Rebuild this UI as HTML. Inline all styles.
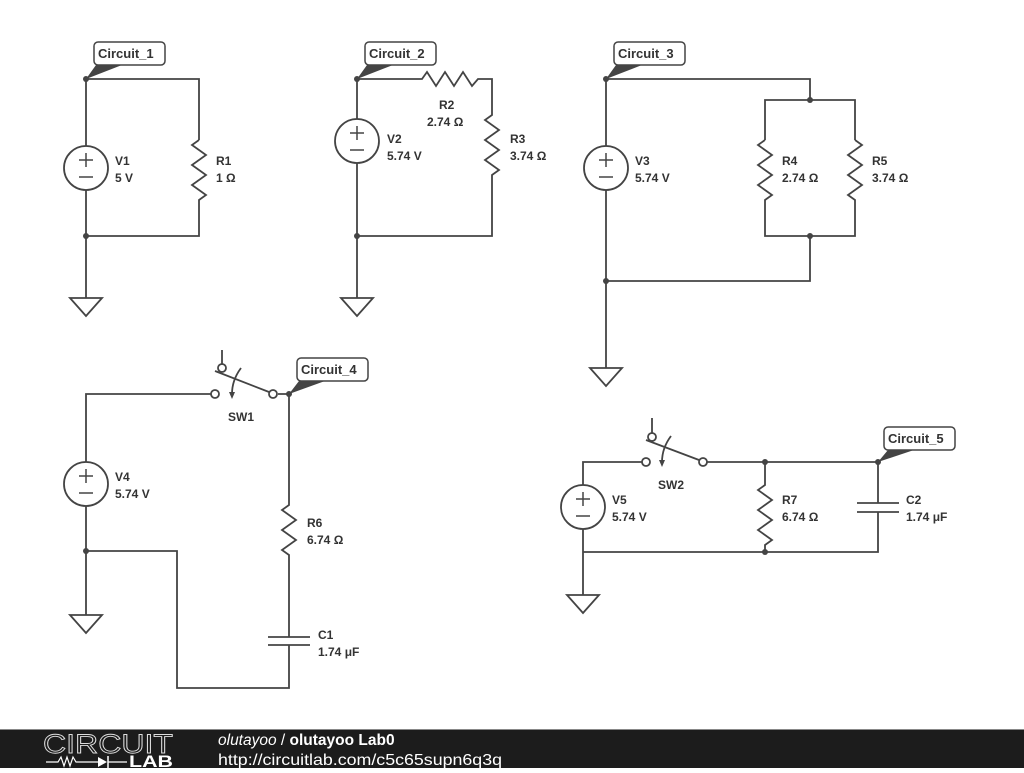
<!DOCTYPE html>
<html><head><meta charset="utf-8"><style>
body{margin:0;width:1024px;height:768px;background:#fff;overflow:hidden;font-family:"Liberation Sans",sans-serif}
svg text{font-family:"Liberation Sans",sans-serif;font-weight:bold;font-size:12px;fill:#333}
</style></head><body>
<svg width="1024" height="768" viewBox="0 0 1024 768" xmlns="http://www.w3.org/2000/svg">
<g fill="none" stroke="#444" stroke-width="1.8">
<polyline points="86,79 199,79 199,140"/>
<polyline points="199,140 192,145 206,155 192,165 206,175 192,185 206,195 199,200 199,236 86,236"/>
<line x1="86" y1="79" x2="86" y2="146"/><line x1="86" y1="190" x2="86" y2="298"/>
<circle cx="86" cy="168" r="22"/>
<polygon points="70,298 102,298 86,316"/>
<polyline points="357,79 422,79 427,72 436,86 445,72 454,86 463,72 472,86 478,79 492,79 492,115 485,120 499,130 485,140 499,150 485,160 499,170 492,175 492,236 357,236"/>
<line x1="357" y1="79" x2="357" y2="119"/><line x1="357" y1="163" x2="357" y2="298"/>
<circle cx="357" cy="141" r="22"/>
<polygon points="341,298 373,298 357,316"/>
<polyline points="606,79 810,79 810,100"/>
<polyline points="765,140 765,100 855,100 855,140"/>
<polyline points="765,140 758,145 772,155 758,165 772,175 758,185 772,195 765,200 765,236 855,236 855,200 848,195 862,185 848,175 862,165 848,155 862,145 855,140"/>
<polyline points="810,236 810,281 606,281"/>
<line x1="606" y1="79" x2="606" y2="146"/><line x1="606" y1="190" x2="606" y2="368"/>
<circle cx="606" cy="168" r="22"/>
<polygon points="590,368 622,368 606,386"/>
<polyline points="211,394 86,394 86,462"/>
<circle cx="86" cy="484" r="22"/>
<line x1="86" y1="506" x2="86" y2="615"/>
<polygon points="70,615 102,615 86,633"/>
<polyline points="86,551 177,551 177,688 289,688 289,645"/>
<polyline points="278,394 289,394 289,505 282,510 296,520 282,530 296,540 282,550 289,555 289,637"/>
<line x1="268" y1="637" x2="310" y2="637"/><line x1="268" y1="645" x2="310" y2="645"/>
<line x1="222" y1="350" x2="222" y2="364"/>
<circle cx="215" cy="394" r="4" fill="#fff"/><circle cx="222" cy="368" r="4" fill="#fff"/><circle cx="273" cy="394" r="4" fill="#fff"/>
<line x1="215" y1="371" x2="269" y2="392"/>
<path d="M241 368 Q232 380 232 394"/>
<polyline points="642,462 583,462 583,485"/>
<circle cx="583" cy="507" r="22"/>
<line x1="583" y1="529" x2="583" y2="595"/>
<polygon points="567,595 599,595 583,613"/>
<polyline points="707,462 878,462 878,503"/>
<line x1="857" y1="503" x2="899" y2="503"/><line x1="857" y1="512" x2="899" y2="512"/>
<polyline points="878,512 878,552 583,552"/>
<polyline points="765,462 765,485 758,490 772,500 758,510 772,520 758,530 772,540 765,545 765,552"/>
<line x1="652" y1="418" x2="652" y2="433"/>
<circle cx="646" cy="462" r="4" fill="#fff"/><circle cx="652" cy="437" r="4" fill="#fff"/><circle cx="703" cy="462" r="4" fill="#fff"/>
<line x1="646" y1="440" x2="699" y2="460"/>
<path d="M671 436 Q662 448 662 462"/>
</g>
<g stroke="#444" stroke-width="1.5">
<line x1="79" y1="160" x2="93" y2="160"/><line x1="86" y1="153" x2="86" y2="167"/><line x1="79" y1="177" x2="93" y2="177"/>
<line x1="350" y1="133" x2="364" y2="133"/><line x1="357" y1="126" x2="357" y2="140"/><line x1="350" y1="150" x2="364" y2="150"/>
<line x1="599" y1="160" x2="613" y2="160"/><line x1="606" y1="153" x2="606" y2="167"/><line x1="599" y1="177" x2="613" y2="177"/>
<line x1="79" y1="476" x2="93" y2="476"/><line x1="86" y1="469" x2="86" y2="483"/><line x1="79" y1="493" x2="93" y2="493"/>
<line x1="576" y1="499" x2="590" y2="499"/><line x1="583" y1="492" x2="583" y2="506"/><line x1="576" y1="516" x2="590" y2="516"/>
</g>
<g fill="#444">
<polygon points="229,392 235,392 232,399"/><polygon points="659,460 665,460 662,467"/>
<circle cx="86" cy="79" r="3"/><circle cx="86" cy="236" r="3"/>
<circle cx="357" cy="79" r="3"/><circle cx="357" cy="236" r="3"/>
<circle cx="606" cy="79" r="3"/><circle cx="810" cy="100" r="3"/><circle cx="810" cy="236" r="3"/><circle cx="606" cy="281" r="3"/>
<circle cx="289" cy="394" r="3"/><circle cx="86" cy="551" r="3"/>
<circle cx="765" cy="462" r="3"/><circle cx="878" cy="462" r="3"/><circle cx="765" cy="552" r="3"/>
<polygon points="86,79 96,65 122,65"/>
<polygon points="357,79 367,65 393,65"/>
<polygon points="606,79 616,65 642,65"/>
<polygon points="289,394 299,381 325,381"/>
<polygon points="878,462 888,450 914,450"/>
</g>
<g fill="#fff" stroke="#444" stroke-width="1.5">
<rect x="94" y="42" width="71" height="23" rx="4"/>
<rect x="365" y="42" width="71" height="23" rx="4"/>
<rect x="614" y="42" width="71" height="23" rx="4"/>
<rect x="297" y="358" width="71" height="23" rx="4"/>
<rect x="884" y="427" width="71" height="23" rx="4"/>
</g>
<text x="98" y="58" style="font-size:13px">Circuit_1</text>
<text x="369" y="58" style="font-size:13px">Circuit_2</text>
<text x="618" y="58" style="font-size:13px">Circuit_3</text>
<text x="301" y="374" style="font-size:13px">Circuit_4</text>
<text x="888" y="443" style="font-size:13px">Circuit_5</text>
<text x="115" y="165">V1</text><text x="115" y="182">5 V</text>
<text x="216" y="165">R1</text><text x="216" y="182">1 Ω</text>
<text x="439" y="109">R2</text><text x="427" y="126">2.74 Ω</text>
<text x="387" y="143">V2</text><text x="387" y="160">5.74 V</text>
<text x="510" y="143">R3</text><text x="510" y="160">3.74 Ω</text>
<text x="635" y="165">V3</text><text x="635" y="182">5.74 V</text>
<text x="782" y="165">R4</text><text x="782" y="182">2.74 Ω</text>
<text x="872" y="165">R5</text><text x="872" y="182">3.74 Ω</text>
<text x="228" y="421">SW1</text>
<text x="115" y="481">V4</text><text x="115" y="498">5.74 V</text>
<text x="307" y="527">R6</text><text x="307" y="544">6.74 Ω</text>
<text x="318" y="639">C1</text><text x="318" y="656">1.74 μF</text>
<text x="658" y="489">SW2</text>
<text x="612" y="504">V5</text><text x="612" y="521">5.74 V</text>
<text x="782" y="504">R7</text><text x="782" y="521">6.74 Ω</text>
<text x="906" y="504">C2</text><text x="906" y="521">1.74 μF</text>
<rect x="0" y="729" width="1024" height="39" fill="#1c1c1c"/>
<rect x="0" y="729" width="1024" height="1" fill="#888"/>
<text x="43" y="753" textLength="130" lengthAdjust="spacingAndGlyphs" style="font-size:27px;font-weight:normal;fill:none;stroke:#ddd;stroke-width:0.9">CIRCUIT</text>
<text x="129" y="767" textLength="44" lengthAdjust="spacingAndGlyphs" style="font-size:17px;fill:#fff">LAB</text>
<polyline points="46,762 58,762 61,757 64,766 67,757 70,766 73,757 76,762 98,762" fill="none" stroke="#fff" stroke-width="1.2"/>
<polygon points="98,757 98,767 107,762" fill="#fff"/><line x1="108" y1="756" x2="108" y2="768" stroke="#fff" stroke-width="1.5"/>
<line x1="108" y1="762" x2="127" y2="762" stroke="#fff" stroke-width="1.2"/>
<text x="218" y="745" style="font-size:15.5px;fill:#fff;font-weight:normal"><tspan font-style="italic">olutayoo</tspan> / <tspan font-weight="bold">olutayoo Lab0</tspan></text>
<text x="218" y="765" textLength="284" lengthAdjust="spacingAndGlyphs" style="font-size:16px;fill:#fff;font-weight:normal">http://circuitlab.com/c5c65supn6q3q</text>
</svg>
</body></html>
